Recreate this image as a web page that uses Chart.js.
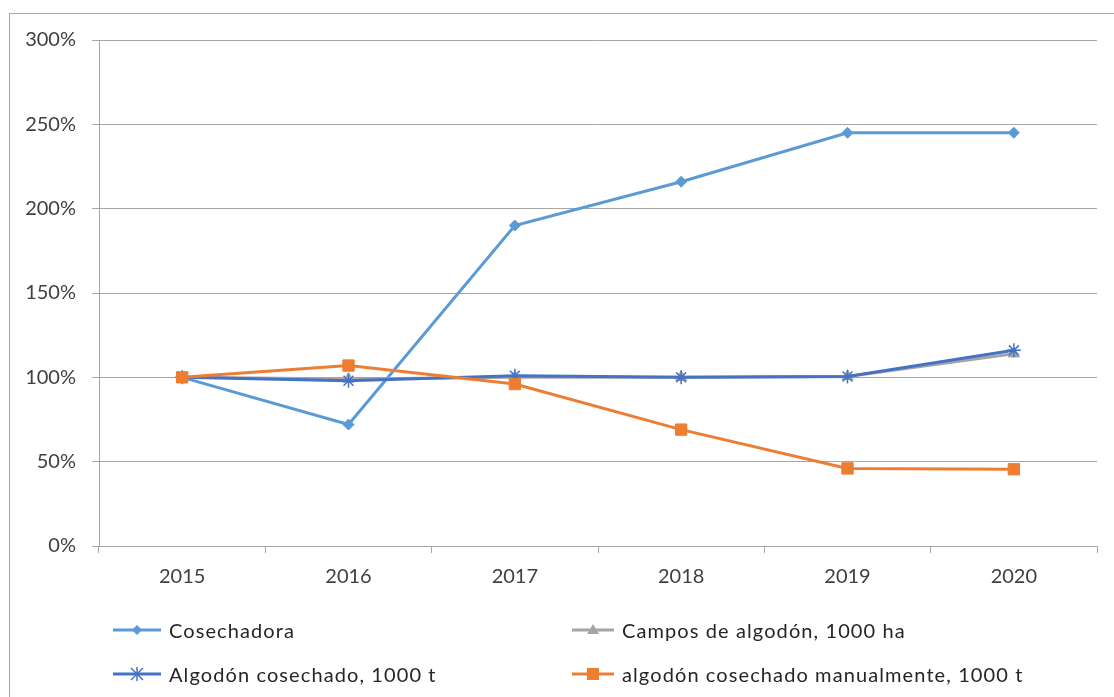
<!DOCTYPE html>
<html>
<head>
<meta charset="utf-8">
<script src="https://cdn.jsdelivr.net/npm/chart.js@4"></script>
<style>
  html, body { margin: 0; padding: 0; background: #fff; }
  #wrap { position: relative; width: 1114px; height: 697px; overflow: hidden; }
  #frame { position: absolute; left: 9px; top: 13px; width: 1200px; height: 800px; border: 1px solid #a6a6a6; }
  canvas { position: absolute; left: 0; top: 0; }
  .leg { position: absolute; display: flex; align-items: center; font-family: Lato, "Open Sans", sans-serif; font-size: 20px; letter-spacing: 1.1px; color: #262626; white-space: nowrap; }
  .leg svg { margin-right: 8px; }
</style>
</head>
<body>
<div id="wrap">
  <div id="frame"></div>
  <canvas id="lineChart" width="1114" height="697"></canvas>
  <div id="legend"></div>
</div>
<script>
'use strict'

const years = ['2015', '2016', '2017', '2018', '2019', '2020'];
const cosechadora = [100, 72, 190, 216, 245, 245];
const campos = [100, 99, 100, 100, 100.5, 114];
const algodonCosechado = [100, 98, 101, 100, 100.5, 116];
const algodonManual = [100, 107, 96, 69, 46, 45.5];
const yTicks = [0, 50, 100, 150, 200, 250, 300];

const ctx = document.getElementById('lineChart');
const axisColor = '#a6a6a6';
const font = { family: 'Lato, "Open Sans", sans-serif', size: 20 };

const series = [
  { label: 'Cosechadora', data: cosechadora, color: '#5b9bd5', style: 'rectRot', radius: 5.5, order: 4 },
  { label: 'Campos de algodón, 1000 ha', data: campos, color: '#a5a5a5', style: 'triangle', radius: 6.5, order: 3 },
  { label: 'Algodón cosechado, 1000 t', data: algodonCosechado, color: '#4472c4', style: 'star', radius: 7, order: 2 },
  { label: 'algodón cosechado manualmente, 1000 t', data: algodonManual, color: '#ed7d31', style: 'rect', radius: 8, order: 1 }
];

new Chart(ctx, {
  type: 'line',
  data: {
    labels: years,
    datasets: series.map(s => ({
      label: s.label,
      data: s.data,
      borderColor: s.color,
      backgroundColor: s.color,
      borderWidth: 3,
      pointStyle: s.style,
      pointRadius: s.radius,
      pointBorderWidth: s.style === 'star' ? 1.5 : 1,
      order: s.order,
      tension: 0
    }))
  },
  options: {
    responsive: false,
    animation: false,
    layout: { padding: { top: 40, right: 17, bottom: 111, left: 0 } },
    plugins: { legend: { display: false }, tooltip: { enabled: false } },
    scales: {
      x: {
        offset: true,
        grid: { offset: true, drawOnChartArea: false, drawTicks: true, tickLength: 7, color: axisColor },
        border: { color: axisColor, width: 1 },
        ticks: { color: '#404040', font: font, padding: 12 },
        afterFit: scale => { scale.height = 40; }
      },
      y: {
        min: 0,
        max: 300,
        afterBuildTicks: scale => { scale.ticks = yTicks.map(v => ({ value: v })); },
        grid: { color: axisColor, tickLength: 7 },
        border: { color: axisColor, width: 1 },
        ticks: { color: '#404040', font: font, padding: 16, callback: v => v + '%' },
        afterFit: scale => { scale.width = 99; }
      }
    }
  }
});

// legend in two columns like the original
const legendPos = [[113, 630], [572, 630], [113, 674], [572, 674]];
const legendBox = document.getElementById('legend');
series.forEach((s, i) => {
  const w = i % 2 === 0 ? 48 : 42;
  const c = w / 2;
  let mark = '';
  if (s.style === 'rectRot') mark = `<polygon points="${c},4 ${c + 5},9 ${c},14 ${c - 5},9" fill="${s.color}"/>`;
  if (s.style === 'triangle') mark = `<polygon points="${c},3 ${c + 6},13 ${c - 6},13" fill="${s.color}"/>`;
  if (s.style === 'star') mark = `<g stroke="${s.color}" stroke-width="1.5"><line x1="${c}" y1="2" x2="${c}" y2="16"/><line x1="${c - 6}" y1="3" x2="${c + 6}" y2="15"/><line x1="${c + 6}" y1="3" x2="${c - 6}" y2="15"/></g>`;
  if (s.style === 'rect') mark = `<rect x="${c - 6}" y="3" width="12" height="12" fill="${s.color}"/>`;
  const el = document.createElement('div');
  el.className = 'leg';
  el.style.left = legendPos[i][0] + 'px';
  el.style.top = (legendPos[i][1] - 12) + 'px';
  el.innerHTML = `<svg width="${w}" height="18"><line x1="0" y1="9" x2="${w}" y2="9" stroke="${s.color}" stroke-width="3"/>${mark}</svg><span>${s.label}</span>`;
  legendBox.appendChild(el);
});
</script>
</body>
</html>
